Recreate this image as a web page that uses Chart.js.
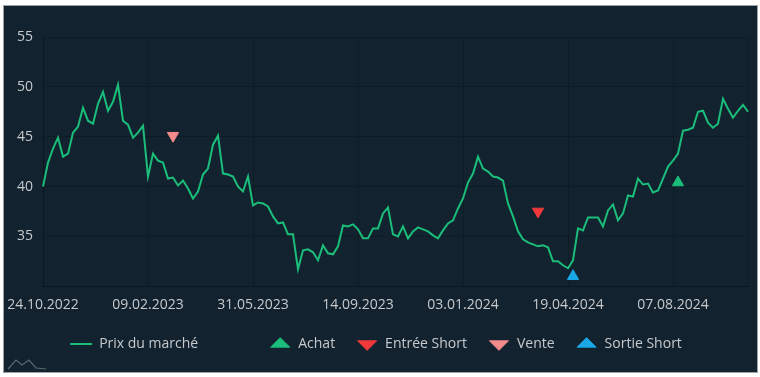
<!DOCTYPE html>
<html>
<head>
<meta charset="utf-8">
<script src="https://cdn.jsdelivr.net/npm/chart.js@4.4.1/dist/chart.umd.min.js"></script>
<style>
    html, body { margin: 0; padding: 0; background: #ffffff; }
    .panel {
        position: absolute;
        left: 4px;
        top: 6px;
        width: 753px;
        height: 366px;
        background: #12232f;
        box-shadow: 0 0 0 1px #9aa3a9;
    }
    canvas { display: block; }
</style>
</head>
<body>
<div class="panel"><canvas id="chart" width="753" height="366"></canvas></div>
<script>
// x axis: one point every ~3.5 trading days, a date label every 21 points
const tickLabels = ['24.10.2022', '09.02.2023', '31.05.2023', '14.09.2023', '03.01.2024', '19.04.2024', '07.08.2024'];
const tickEvery = 21;

const prices = [
    40.0, 42.4, 43.8, 44.9, 43.0, 43.3, 45.4, 46.0, 47.9, 46.6,
    46.3, 48.3, 49.5, 47.6, 48.5, 50.2, 46.6, 46.2, 44.9, 45.4,
    46.1, 41.0, 43.3, 42.6, 42.4, 40.8, 40.9, 40.1, 40.6, 39.8,
    38.8, 39.5, 41.2, 41.8, 44.2, 45.1, 41.3, 41.2, 41.0, 40.0,
    39.5, 41.0, 38.1, 38.4, 38.3, 38.0, 37.0, 36.3, 36.4, 35.2,
    35.2, 31.7, 33.6, 33.7, 33.4, 32.6, 34.1, 33.3, 33.2, 34.0,
    36.1, 36.0, 36.2, 35.7, 34.8, 34.8, 35.8, 35.8, 37.3, 37.9,
    35.2, 35.0, 36.0, 34.8, 35.5, 35.9, 35.7, 35.5, 35.1, 34.8,
    35.6, 36.3, 36.6, 37.8, 38.8, 40.4, 41.3, 43.0, 41.8, 41.5,
    41.0, 40.9, 40.6, 38.3, 37.0, 35.5, 34.7, 34.4, 34.2, 34.0,
    34.1, 33.9, 32.5, 32.5, 32.1, 31.8, 32.6, 35.8, 35.6, 36.9,
    36.9, 36.9, 36.0, 37.6, 38.2, 36.6, 37.3, 39.1, 39.0, 40.8,
    40.2, 40.3, 39.4, 39.6, 40.8, 42.0, 42.6, 43.3, 45.6, 45.7,
    45.9, 47.5, 47.6, 46.4, 45.9, 46.3, 48.8, 47.8, 46.9, 47.6,
    48.2, 47.5
];

// trading signals
const signalNames = ['Achat', 'Entrée Short', 'Vente', 'Sortie Short'];
const signalIndex = [127, 99, 26, 106];
const signalPrice = [40.4, 37.5, 45.1, 31.0];

const yTicks = [30, 35, 40, 45, 50, 55];

const colors = {
    line: '#1bbd7b',
    signals: ['#1bbd7b', '#f0393b', '#f58b8b', '#1aa8e6'],
    rotation: [0, 180, 180, 0],
    text: '#c6cacd',
    grid: 'rgba(0, 0, 0, 0.2)'
};

const labels = prices.map((_, i) => (i % tickEvery === 0 ? tickLabels[i / tickEvery] : ''));
const lastIndex = prices.length - 1;

const signalSets = signalNames.map((name, k) => ({
    label: name,
    data: prices.map((_, i) => (i === signalIndex[k] ? signalPrice[k] : null)),
    showLine: false,
    pointStyle: 'triangle',
    pointRotation: colors.rotation[k],
    pointRadius: 6.5,
    pointHoverRadius: 6.5,
    pointBackgroundColor: colors.signals[k],
    pointBorderColor: colors.signals[k],
    pointBorderWidth: 1,
    backgroundColor: colors.signals[k],
    borderColor: colors.signals[k],
    borderWidth: 1
}));

// small watermark in the lower left corner
const watermark = {
    id: 'watermark',
    afterDraw(chart) {
        const ctx = chart.ctx;
        ctx.save();
        ctx.strokeStyle = 'rgba(150, 160, 168, 0.55)';
        ctx.lineWidth = 1.2;
        ctx.beginPath();
        ctx.moveTo(4, 363);
        ctx.lineTo(12, 354);
        ctx.lineTo(18, 359);
        ctx.lineTo(25, 354);
        ctx.lineTo(32, 362);
        ctx.lineTo(42, 363);
        ctx.stroke();
        ctx.restore();
    }
};

new Chart(document.getElementById('chart'), {
    type: 'line',
    data: {
        labels: labels,
        datasets: [{
            label: 'Prix du marché',
            data: prices,
            borderColor: colors.line,
            backgroundColor: colors.line,
            borderWidth: 2,
            pointRadius: 0,
            pointStyle: 'line',
            tension: 0,
            fill: false
        }].concat(signalSets)
    },
    options: {
        responsive: false,
        animation: false,
        devicePixelRatio: 1,
        layout: {
            padding: { left: 0, right: 9, top: 31, bottom: 11 }
        },
        plugins: {
            tooltip: { enabled: false },
            legend: {
                position: 'bottom',
                labels: {
                    color: colors.text,
                    font: { family: 'Open Sans', size: 14 },
                    usePointStyle: true,
                    pointStyleWidth: 22,
                    boxHeight: 9,
                    padding: 21,
                    generateLabels(chart) {
                        const items = Chart.defaults.plugins.legend.labels.generateLabels(chart);
                        // wider gap after the price entry
                        items.splice(1, 0, {
                            text: '',
                            fillStyle: 'rgba(0,0,0,0)',
                            strokeStyle: 'rgba(0,0,0,0)',
                            lineWidth: 0,
                            pointStyle: 'circle',
                            hidden: false
                        });
                        return items;
                    }
                }
            }
        },
        scales: {
            x: {
                grid: {
                    color: (ctx) => (ctx.index % tickEvery === 0 || ctx.index === lastIndex ? colors.grid : 'rgba(0,0,0,0)'),
                    drawTicks: true,
                    tickLength: 7,
                    tickColor: 'rgba(0,0,0,0)'
                },
                border: { color: colors.grid },
                ticks: {
                    autoSkip: false,
                    maxRotation: 0,
                    minRotation: 0,
                    padding: 3,
                    color: colors.text,
                    font: { family: 'Open Sans', size: 14 },
                    callback: (value, index) => labels[index]
                }
            },
            y: {
                min: yTicks[0],
                max: yTicks[yTicks.length - 1],
                afterFit(scale) { scale.width = 39; },
                afterBuildTicks(scale) { scale.ticks = yTicks.map(v => ({ value: v })); },
                grid: {
                    color: colors.grid,
                    drawTicks: false
                },
                border: { color: colors.grid },
                ticks: {
                    padding: 10,
                    color: colors.text,
                    font: { family: 'Open Sans', size: 14 },
                    callback: (value) => (value === yTicks[0] ? '' : value)
                }
            }
        }
    },
    plugins: [watermark]
});
</script>
</body>
</html>
